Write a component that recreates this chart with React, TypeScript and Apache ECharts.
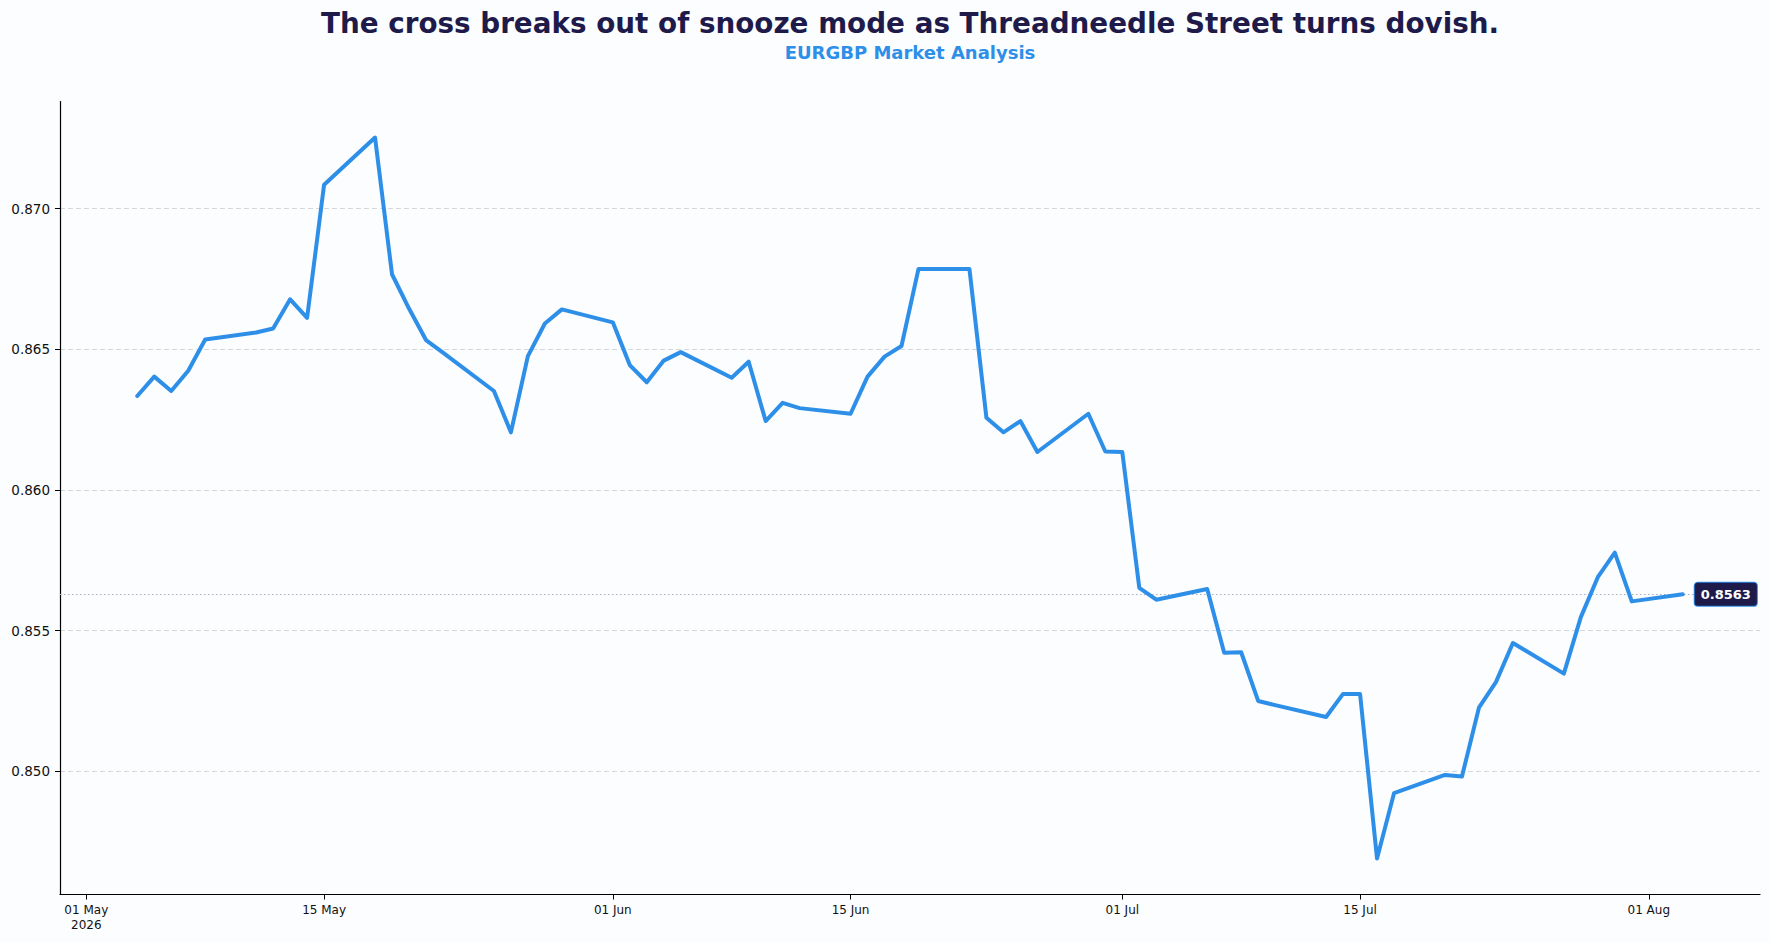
import React, { useEffect, useRef } from "react";
import * as echarts from "echarts";

const TITLE = "The cross breaks out of snooze mode as Threadneedle Street turns dovish.";
const SUBTITLE = "EURGBP Market Analysis";

const DATES: string[] = [
  "2026-05-04", "2026-05-05", "2026-05-06", "2026-05-07", "2026-05-08",
  "2026-05-11", "2026-05-12", "2026-05-13", "2026-05-14", "2026-05-15",
  "2026-05-18", "2026-05-19", "2026-05-20", "2026-05-21", "2026-05-22",
  "2026-05-25", "2026-05-26", "2026-05-27", "2026-05-28", "2026-05-29",
  "2026-06-01", "2026-06-02", "2026-06-03", "2026-06-04", "2026-06-05",
  "2026-06-08", "2026-06-09", "2026-06-10", "2026-06-11", "2026-06-12",
  "2026-06-15", "2026-06-16", "2026-06-17", "2026-06-18", "2026-06-19",
  "2026-06-22", "2026-06-23", "2026-06-24", "2026-06-25", "2026-06-26",
  "2026-06-29", "2026-06-30", "2026-07-01", "2026-07-02", "2026-07-03",
  "2026-07-06", "2026-07-07", "2026-07-08", "2026-07-09", "2026-07-10",
  "2026-07-13", "2026-07-14", "2026-07-15", "2026-07-16", "2026-07-17",
  "2026-07-20", "2026-07-21", "2026-07-22", "2026-07-23", "2026-07-24",
  "2026-07-27", "2026-07-28", "2026-07-29", "2026-07-30", "2026-07-31",
  "2026-08-03",
];

const VALUES: number[] = [
  0.86334, 0.86403, 0.86352, 0.86424, 0.86535,
  0.8656, 0.86574, 0.86678, 0.86612, 0.87085,
  0.87253, 0.86767, 0.86645, 0.86533, 0.86488,
  0.86352, 0.86205, 0.86476, 0.86592, 0.86642,
  0.86596, 0.86444, 0.86383, 0.8646, 0.8649,
  0.86399, 0.86456, 0.86245, 0.8631, 0.86291,
  0.86271, 0.86403, 0.86474, 0.86512, 0.86786,
  0.86786, 0.86257, 0.86205, 0.86245, 0.86135,
  0.86271, 0.86137, 0.86135, 0.85652, 0.8561,
  0.85648, 0.85421, 0.85423, 0.8525, 0.85235,
  0.85193, 0.85275, 0.85275, 0.8469, 0.84922,
  0.84987, 0.84981, 0.85226, 0.85317, 0.85456,
  0.85347, 0.85548, 0.8569, 0.85777, 0.85604,
  0.85629,
];

const X_TICKS: string[] = [
  "2026-05-01", "2026-05-15", "2026-06-01", "2026-06-15",
  "2026-07-01", "2026-07-15", "2026-08-01",
];
const Y_TICKS: number[] = [0.85, 0.855, 0.86, 0.865, 0.87];
const MONTHS: string[] = ["Jan", "Feb", "Mar", "Apr", "May", "Jun", "Jul", "Aug", "Sep", "Oct", "Nov", "Dec"];

const FONT = "DejaVu Sans";
const BLUE = "#2e8fe8";
const NAVY = "#1e1b4b";
const BG = "#fbfdff";
const DAY = 86400000;

function toTs(s: string): number {
  const [y, m, d] = s.split("-").map(Number);
  return Date.UTC(y, m - 1, d);
}

export default function App() {
  const ref = useRef<HTMLDivElement>(null);

  useEffect(() => {
    document.body.style.margin = "0";
    document.body.style.background = BG;
    if (!ref.current) return;
    const chart = echarts.init(ref.current, undefined, { renderer: "svg" });

    const xs = DATES.map(toTs);
    const data = xs.map((t, i) => [t, VALUES[i]]);
    const span = xs[xs.length - 1] - xs[0];
    const xMin = xs[0] - span * 0.05;
    const xMax = xs[xs.length - 1] + span * 0.05;
    const vMin = Math.min(...VALUES);
    const vMax = Math.max(...VALUES);
    const vSpan = vMax - vMin;
    const yMin = vMin - vSpan * 0.05;
    const yMax = vMax + vSpan * 0.05;
    const last = VALUES[VALUES.length - 1];
    const xTickTs = X_TICKS.map(toTs);
    const firstTick = xTickTs[0];

    const titleCenter = 905;

    chart.setOption({
      animation: false,
      backgroundColor: BG,
      textStyle: { fontFamily: FONT },
      title: [
        {
          text: TITLE,
          left: titleCenter,
          top: 4,
          textAlign: "center",
          textStyle: { fontFamily: FONT, fontSize: 27.8, fontWeight: "bold", color: NAVY },
        },
        {
          text: SUBTITLE,
          left: titleCenter,
          top: 38,
          textAlign: "center",
          textStyle: { fontFamily: FONT, fontSize: 18, fontWeight: "bold", color: BLUE },
        },
      ],
      grid: {
        left: 60,
        right: 9,
        top: 101.5,
        bottom: 47.5,
        containLabel: false,
        outerBoundsMode: "none",
      },
      xAxis: {
        type: "value",
        min: xMin,
        max: xMax,
        axisLine: { show: true, onZero: false, lineStyle: { color: "#000", width: 1.2 } },
        axisTick: { show: true, length: 5, lineStyle: { color: "#000" }, customValues: xTickTs },
        splitLine: { show: false },
        axisLabel: {
          customValues: xTickTs,
          margin: 8,
          fontSize: 12,
          lineHeight: 15,
          color: "#111",
          fontFamily: FONT,
          align: "center",
          formatter: (v: number) => {
            const d = new Date(v);
            const dd = String(d.getUTCDate()).padStart(2, "0");
            const s = `${dd} ${MONTHS[d.getUTCMonth()]}`;
            return Math.abs(v - firstTick) < DAY / 2 ? `${s}\n${d.getUTCFullYear()}` : s;
          },
        },
      },
      yAxis: {
        type: "value",
        min: yMin,
        max: yMax,
        axisLine: { show: true, lineStyle: { color: "#000", width: 1.2 } },
        axisTick: { show: true, length: 5, lineStyle: { color: "#000" }, customValues: Y_TICKS },
        axisLabel: {
          customValues: Y_TICKS,
          margin: 10,
          fontSize: 13.5,
          color: "#111",
          fontFamily: FONT,
          formatter: (v: number) => v.toFixed(3),
        },
        splitLine: {
          show: true,
          lineStyle: { color: "#d3d7de", type: [5, 3], width: 1 },
        },
      },
      series: [
        {
          type: "line",
          data,
          showSymbol: false,
          symbol: "none",
          lineStyle: { color: BLUE, width: 4, cap: "round", join: "round" },
          itemStyle: { color: BLUE },
          z: 3,
          endLabel: {
            show: true,
            distance: 12,
            formatter: () => last.toFixed(4),
            color: "#fff",
            fontFamily: FONT,
            fontWeight: "bold",
            fontSize: 13,
            lineHeight: 15,
            backgroundColor: NAVY,
            borderColor: BLUE,
            borderWidth: 1,
            borderRadius: 3,
            padding: [4, 6, 4, 6],
          },
          markLine: {
            silent: true,
            precision: 6,
            symbol: ["none", "none"],
            label: { show: false },
            lineStyle: { color: "#a9afb9", type: [1.5, 2.5], width: 1 },
            data: [{ yAxis: last }],
            z: 1,
          },
        },
      ],
    });

    return () => chart.dispose();
  }, []);

  return <div ref={ref} style={{ width: 1769, height: 942 }} />;
}
